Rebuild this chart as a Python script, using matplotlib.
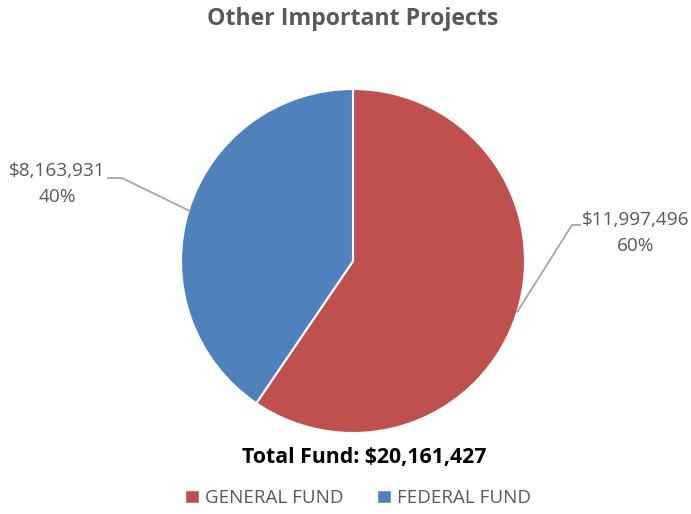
import numpy as np
import matplotlib.pyplot as plt

TITLE = "Other Important Projects"
CATEGORIES = ["GENERAL FUND", "FEDERAL FUND"]
AMOUNTS = [11997496, 8163931]
COLORS = ["#C0504D", "#4F81BD"]

W, H = 691, 514
plt.rcParams["font.family"] = ["Open Sans", "DejaVu Sans"]

fig = plt.figure(figsize=(W / 100, H / 100), dpi=100)

# pie axes placed in pixel terms: center (353, 261), radius 172
cx, cy, r = 353, 261, 172
ax = fig.add_axes([(cx - r) / W, (H - cy - r) / H, 2 * r / W, 2 * r / H])
wedges, _ = ax.pie(
    AMOUNTS,
    colors=COLORS,
    startangle=90,
    counterclock=False,
    wedgeprops=dict(edgecolor="white", linewidth=1.5),
)
ax.set_xlim(-1, 1)
ax.set_ylim(-1, 1)
ax.set_aspect("equal")
ax.axis("off")

total = sum(AMOUNTS)


def px(x, y):
    return (x - cx) / r, (cy - y) / r


# label layout: (elbow point, end of horizontal, text anchor)
layout = [
    (px(572, 225), px(580, 225), px(636, 233)),
    (px(122, 178), px(108, 178), px(57, 184)),
]

for w, val, (elbow, end, txt) in zip(wedges, AMOUNTS, layout):
    mid = np.deg2rad((w.theta1 + w.theta2) / 2)
    edge = (np.cos(mid), np.sin(mid))
    ax.plot([edge[0], elbow[0], end[0]], [edge[1], elbow[1], end[1]],
            color="#A6A6A6", lw=1.3, clip_on=False)
    pct = round(val / total * 100)
    ax.text(txt[0], txt[1], f"${val:,}\n{pct}%", ha="center", va="center",
            fontsize=13.7, color="#595959", linespacing=1.55, clip_on=False)

fig.text(353 / W, 1 - 19 / H, TITLE, ha="center", va="center",
         fontsize=16.7, fontweight="bold", color="#595959")
fig.text(364 / W, 1 - 458 / H, f"Total Fund: ${total:,}", ha="center",
         va="center", fontsize=15.3, fontweight="bold", color="black")

handles = [plt.Rectangle((0, 0), 1, 1, facecolor=c, edgecolor="white") for c in COLORS]
fig.legend(handles, CATEGORIES, loc="center", bbox_to_anchor=(358 / W, 1 - 498 / H),
           ncol=2, frameon=False, fontsize=13.5, labelcolor="#595959",
           handlelength=0.75, handleheight=0.75, handletextpad=0.3, columnspacing=1.8)

fig.savefig("out.png", dpi=100)
